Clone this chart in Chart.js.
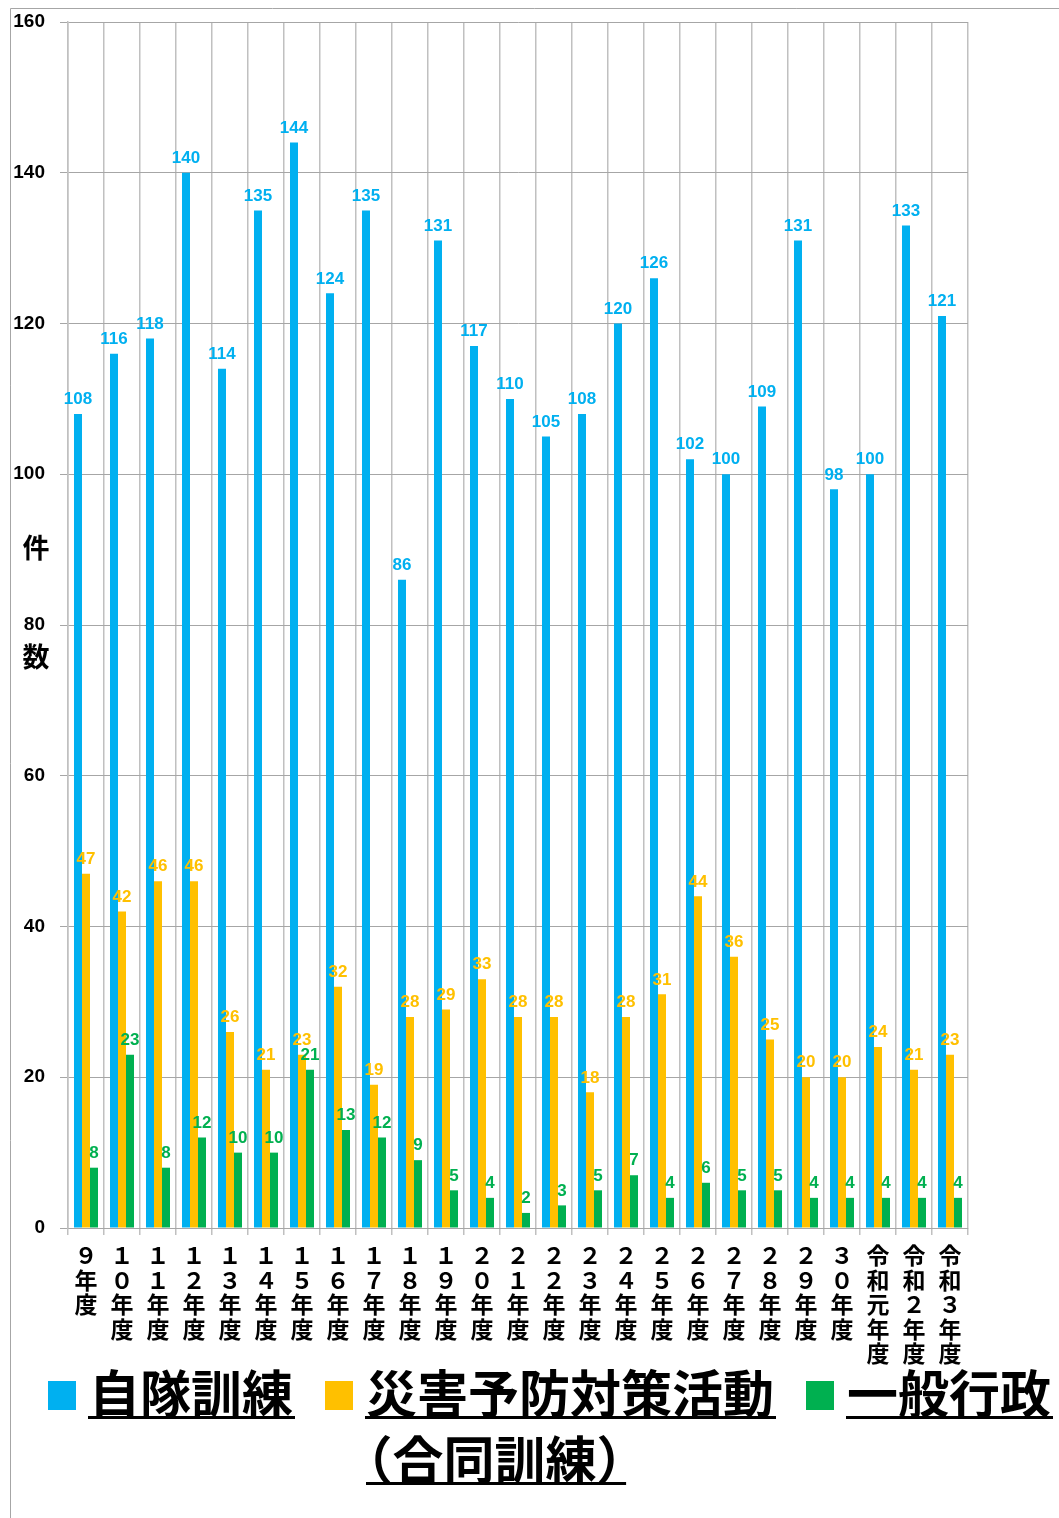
<!DOCTYPE html>
<html>
<head>
<meta charset="utf-8">
<script src="https://cdn.jsdelivr.net/npm/chart.js@4.4.1/dist/chart.umd.min.js"></script>
<style>
  body { margin: 0; background: #fff; }
  #wrap { width: 1059px; height: 1518px; }
</style>
</head>
<body>
<div id="wrap"><canvas id="barChart" width="1059" height="1518"></canvas></div>
<script>
var categories = ['９年度', '１０年度', '１１年度', '１２年度', '１３年度', '１４年度', '１５年度', '１６年度', '１７年度', '１８年度', '１９年度', '２０年度', '２１年度', '２２年度', '２３年度', '２４年度', '２５年度', '２６年度', '２７年度', '２８年度', '２９年度', '３０年度', '令和元年度', '令和２年度', '令和３年度'];
var seriesNames = ['自隊訓練', '災害予防対策活動（合同訓練）', '一般行政'];
var selfTraining = [108, 116, 118, 140, 114, 135, 144, 124, 135, 86, 131, 117, 110, 105, 108, 120, 126, 102, 100, 109, 131, 98, 100, 133, 121];
var disasterPrevention = [47, 42, 46, 46, 26, 21, 23, 32, 19, 28, 29, 33, 28, 28, 18, 28, 31, 44, 36, 25, 20, 20, 24, 21, 23];
var generalAdmin = [8, 23, 8, 12, 10, 10, 21, 13, 12, 9, 5, 4, 2, 3, 5, 7, 4, 6, 5, 5, 4, 4, 4, 4, 4];
var yTicks = [0, 20, 40, 60, 80, 100, 120, 140, 160];
var colors = ['#00b0f0', '#ffc000', '#00b050'];

var jpFont = '"Noto Sans CJK JP", "Noto Sans", sans-serif';

// frame, value labels, y title and legend drawn on the canvas
var extras = {
  id: 'extras',
  beforeDraw: function(chart) {
    var c = chart.ctx;
    c.save();
    c.fillStyle = '#fff';
    c.fillRect(0, 0, chart.width, chart.height);
    c.strokeStyle = '#a6a6a6';
    c.lineWidth = 1;
    c.beginPath();
    c.moveTo(10.5, chart.height);
    c.lineTo(10.5, 8.5);
    c.lineTo(chart.width, 8.5);
    c.stroke();
    c.restore();
  },
  afterDatasetsDraw: function(chart) {
    var c = chart.ctx;
    c.save();
    c.font = 'bold 17px "Liberation Sans", Arial, sans-serif';
    c.textAlign = 'center';
    c.textBaseline = 'bottom';
    chart.data.datasets.forEach(function(ds, i) {
      var meta = chart.getDatasetMeta(i);
      c.fillStyle = ds.backgroundColor;
      meta.data.forEach(function(bar, j) {
        c.fillText(ds.data[j], bar.x, bar.y - 6);
      });
    });
    c.restore();
  },
  afterDraw: function(chart) {
    var c = chart.ctx;
    c.save();
    // y axis title
    c.fillStyle = '#000';
    c.font = 'bold 27px ' + jpFont;
    c.textAlign = 'center';
    c.textBaseline = 'middle';
    c.fillText('件', 36, 548);
    c.fillText('数', 36, 657);

    // legend
    var fs = 51;
    c.font = 'bold ' + fs + 'px ' + jpFont;
    c.textAlign = 'left';
    var x = 48, y = 1394;
    chart.data.datasets.forEach(function(ds) {
      c.fillStyle = ds.backgroundColor;
      c.fillRect(x, y - 13, 28, 29);
      var tx = x + 41;
      var parts = ds.label.split('（');
      var lines = [parts[0]];
      if (parts.length > 1) lines.push('（' + parts[1]);
      var w0 = 0;
      lines.forEach(function(line, k) {
        var ly = y + k * 66;
        var w = c.measureText(line).width;
        if (k === 0) w0 = w;
        c.fillStyle = '#000';
        if (line.charAt(0) === '（') {
          // tighten full-width brackets like the original
          c.fillText(line, tx - fs * 0.48, ly);
          c.fillRect(tx, ly + 22, w - fs * 0.9, 3);
        } else {
          c.fillText(line, tx, ly);
          c.fillRect(tx - 1, ly + 22, w + 3, 3);
        }
      });
      x = tx + w0 + 32;
    });
    c.restore();
  }
};

var ctxB = document.getElementById('barChart').getContext('2d');
var myBarChart = new Chart(ctxB, {
  type: 'bar',
  data: {
    labels: categories,
    datasets: [{
        label: seriesNames[0],
        data: selfTraining,
        backgroundColor: colors[0]
      },
      {
        label: seriesNames[1],
        data: disasterPrevention,
        backgroundColor: colors[1]
      },
      {
        label: seriesNames[2],
        data: generalAdmin,
        backgroundColor: colors[2]
      }
    ]
  },
  options: {
    responsive: false,
    animation: false,
    devicePixelRatio: 1,
    layout: {
      padding: { top: 22, left: 10, right: 91, bottom: 150 }
    },
    plugins: {
      legend: { display: false },
      tooltip: { enabled: false }
    },
    datasets: {
      bar: { categoryPercentage: 0.667, barPercentage: 1.0 }
    },
    scales: {
      x: {
        grid: { color: '#c0c0c0', lineWidth: 1.5, tickLength: 7, offset: true },
        border: { color: '#a6a6a6', width: 1 },
        ticks: {
          autoSkip: false,
          maxRotation: 0,
          minRotation: 0,
          padding: 8,
          color: '#000',
          font: { family: jpFont, size: 23, weight: 'bold', lineHeight: 1.07 },
          callback: function(value) {
            return Array.from(this.getLabelForValue(value));
          }
        },
        afterFit: function(scale) { scale.height = 140; }
      },
      y: {
        min: 0,
        max: 160,
        grid: { color: '#a6a6a6', lineWidth: 1, tickLength: 8 },
        border: { color: '#c0c0c0', width: 1.5 },
        afterBuildTicks: function(scale) {
          scale.ticks = yTicks.map(function(v) { return { value: v }; });
        },
        ticks: {
          padding: 15,
          color: '#000',
          font: { family: '"Liberation Sans", Arial, sans-serif', size: 19, weight: 'bold' }
        },
        afterFit: function(scale) {
          scale.width = 58;
          scale.paddingTop = 0;
          scale.paddingBottom = 0;
        }
      }
    }
  },
  plugins: [extras]
});
</script>
</body>
</html>
